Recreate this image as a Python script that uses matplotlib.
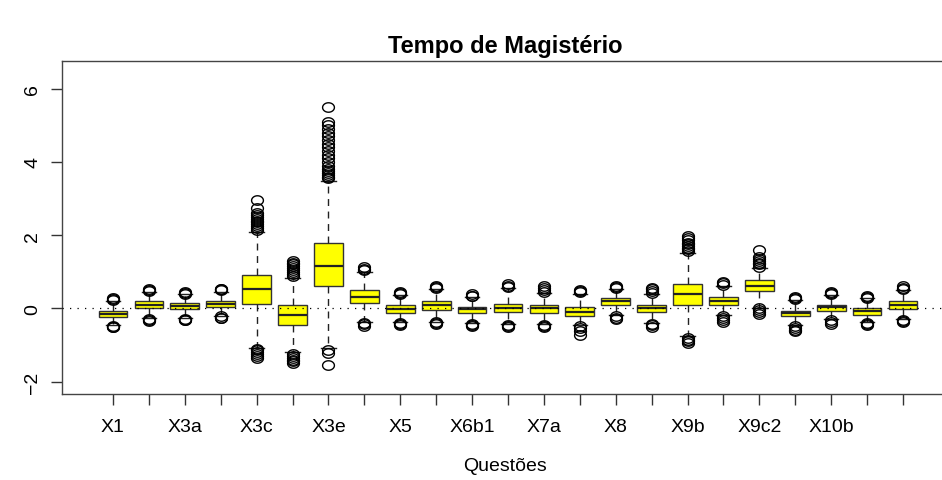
import matplotlib
matplotlib.use('Agg')
import matplotlib.pyplot as plt
from matplotlib.path import Path
import numpy as np

plt.rcParams['font.family'] = ['Liberation Sans', 'DejaVu Sans']

# one entry per question (23 boxes), labels shown only where R kept them
tick_labels = ['X1', '', 'X3a', '', 'X3c', '', 'X3e', '', 'X5', '', 'X6b1', '',
               'X7a', '', 'X8', '', 'X9b', '', 'X9c2', '', 'X10b', '', '']

q1 = [-0.24, 0.00, -0.03, 0.03, 0.11, -0.46, 0.61, 0.14, -0.12, -0.05, -0.14, -0.10,
      -0.12, -0.21, 0.10, -0.09, 0.08, 0.10, 0.47, -0.22, -0.06, -0.17, -0.02]
med = [-0.15, 0.10, 0.06, 0.12, 0.53, -0.18, 1.16, 0.31, -0.01, 0.08, -0.03, 0.00,
       0.00, -0.09, 0.19, 0.01, 0.38, 0.20, 0.62, -0.13, 0.03, -0.08, 0.08]
q3 = [-0.06, 0.20, 0.14, 0.21, 0.92, 0.08, 1.78, 0.49, 0.08, 0.19, 0.05, 0.12,
      0.10, 0.03, 0.28, 0.10, 0.67, 0.31, 0.78, -0.06, 0.10, 0.01, 0.19]
whi = [0.20, 0.45, 0.38, 0.46, 2.10, 0.84, 3.48, 1.00, 0.37, 0.52, 0.31, 0.55,
       0.43, 0.40, 0.53, 0.38, 1.52, 0.62, 1.10, 0.22, 0.36, 0.27, 0.49]
wlo = [-0.46, -0.27, -0.27, -0.20, -1.07, -1.20, -1.08, -0.38, -0.38, -0.36, -0.41, -0.42,
       -0.43, -0.45, -0.17, -0.41, -0.76, -0.18, 0.02, -0.46, -0.30, -0.38, -0.29]

out_hi = [
    [0.24, 0.26, 0.28],
    [0.48, 0.51, 0.54],
    [0.40, 0.43, 0.45],
    [0.49, 0.52, 0.54],
    [2.15, 2.2, 2.25, 2.3, 2.35, 2.4, 2.45, 2.5, 2.55, 2.6, 2.75, 2.96],
    [0.88, 0.95, 1.0, 1.05, 1.1, 1.15, 1.2, 1.25, 1.3],
    [3.55, 3.6, 3.65, 3.7, 3.75, 3.8, 3.9, 4.0, 4.1, 4.2, 4.3, 4.4, 4.5, 4.6, 4.7,
     4.8, 4.9, 5.0, 5.1, 5.5],
    [1.05, 1.08, 1.12],
    [0.40, 0.43, 0.45],
    [0.55, 0.58, 0.61],
    [0.33, 0.35, 0.38],
    [0.58, 0.62, 0.66],
    [0.46, 0.50, 0.55, 0.60],
    [0.44, 0.47, 0.50],
    [0.56, 0.59, 0.62],
    [0.42, 0.47, 0.52, 0.56],
    [1.58, 1.62, 1.66, 1.7, 1.75, 1.8, 1.86, 1.92, 1.98],
    [0.65, 0.68, 0.71],
    [1.14, 1.2, 1.25, 1.3, 1.35, 1.4, 1.6],
    [0.25, 0.28, 0.30],
    [0.40, 0.42, 0.45],
    [0.29, 0.32, 0.34],
    [0.53, 0.56, 0.60],
]
out_lo = [
    [-0.48, -0.50, -0.52],
    [-0.29, -0.31, -0.35],
    [-0.29, -0.31, -0.33],
    [-0.22, -0.25, -0.27],
    [-1.1, -1.15, -1.2, -1.25, -1.3, -1.35],
    [-1.25, -1.3, -1.35, -1.4, -1.45, -1.5],
    [-1.15, -1.22, -1.54],
    [-0.40, -0.43, -0.47],
    [-0.40, -0.42, -0.45],
    [-0.38, -0.40, -0.43],
    [-0.43, -0.45, -0.48],
    [-0.45, -0.48, -0.51],
    [-0.45, -0.48, -0.52],
    [-0.48, -0.55, -0.62, -0.72],
    [-0.20, -0.25, -0.30],
    [-0.43, -0.46, -0.50],
    [-0.82, -0.86, -0.90, -0.94],
    [-0.22, -0.27, -0.33, -0.38],
    [0.0, -0.05, -0.10, -0.15],
    [-0.49, -0.53, -0.58, -0.62],
    [-0.33, -0.38, -0.44],
    [-0.40, -0.43, -0.46],
    [-0.31, -0.34, -0.36],
]

stats = []
for i in range(len(q1)):
    stats.append({'q1': q1[i], 'med': med[i], 'q3': q3[i],
                  'whislo': wlo[i], 'whishi': whi[i],
                  'fliers': out_hi[i] + out_lo[i]})

# the original picture is a bit stretched sideways, so the circles are wide
t = np.linspace(0, 2 * np.pi, 60)
ellipse = Path(np.column_stack([np.cos(t), 0.8 * np.sin(t)]), closed=True)

fig = plt.figure(figsize=(9.42, 4.81), dpi=100)
# plot region runs past the right edge of the picture, like the original
ax = fig.add_axes([62/942, 86/481, 892/942, 333/481])

pos = np.arange(1, len(q1) + 1)
ax.bxp(stats, positions=pos, widths=0.8, capwidths=0.4, patch_artist=True,
       boxprops=dict(facecolor='yellow', edgecolor='#333333', linewidth=1.0),
       medianprops=dict(color='#222222', linewidth=1.6),
       whiskerprops=dict(color='#222222', linewidth=1.0, linestyle=(0, (5, 4))),
       capprops=dict(color='#222222', linewidth=1.0),
       flierprops=dict(marker=ellipse, markerfacecolor='none', markeredgecolor='black',
                       markersize=8.5, markeredgewidth=1.0))

ax.axhline(0, color='black', linestyle=(0, (1, 5)), linewidth=0.9, zorder=5)

ax.set_xlim(-0.42, 24.42)
ax.set_ylim(-2.34, 6.76)
ax.set_xticks(pos)
ax.set_xticklabels(tick_labels, fontsize=14)
ax.set_yticks([-2, 0, 2, 4, 6])
ax.set_yticklabels(['\u22122', '0', '2', '4', '6'], fontsize=14, rotation=90, va='center')
ax.tick_params(length=8, width=1, color='#333333')
ax.tick_params(axis='x', pad=9)
ax.tick_params(axis='y', pad=7)

for s in ax.spines.values():
    s.set_color('#444444')
    s.set_linewidth(1.0)

fig.text(505/942, 1 - 47/481, 'Tempo de Magistério', ha='center', va='center',
         fontsize=17, fontweight='bold')
fig.text(505/942, 1 - 467/481, 'Questões', ha='center', va='center', fontsize=14)

fig.savefig('out.png', dpi=100)
